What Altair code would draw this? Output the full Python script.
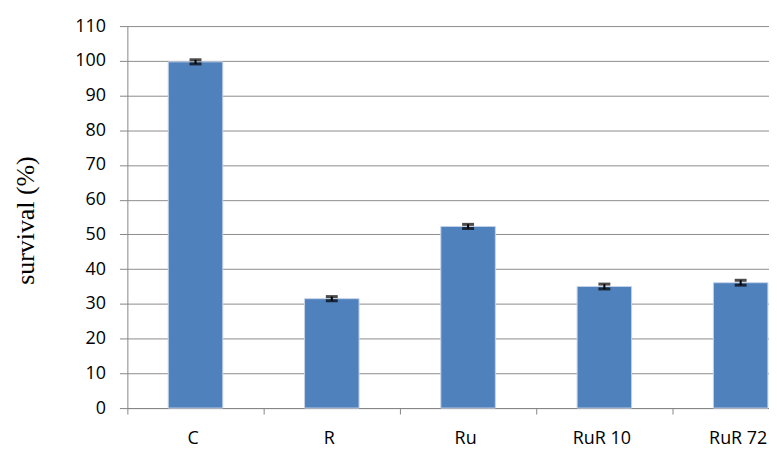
import altair as alt
import pandas as pd

categories = ["C", "R", "Ru", "RuR 10", "RuR 72"]
survival = [99.7, 31.5, 52.3, 35.0, 36.1]
errors = [0.6, 0.6, 0.6, 0.7, 0.7]
y_ticks = [0, 10, 20, 30, 40, 50, 60, 70, 80, 90, 100, 110]

df = pd.DataFrame({"cat": categories, "val": survival, "err": errors})
df["lo"] = df["val"] - df["err"]
df["hi"] = df["val"] + df["err"]

STEP = 137
xscale = alt.Scale(domain=categories, range=[0, 5 * STEP], paddingInner=0.6, paddingOuter=0.3)
yscale = alt.Scale(domain=[0, 110], nice=False)

xaxis = alt.Axis(labelAngle=0, tickOffset=-STEP / 2, labelOffset=STEP / 2 - 3, tickSize=6,
                 labelPadding=16, labelFontSize=18,
                 labelFont="Open Sans", labelColor="#000000",
                 domainColor="#868686", tickColor="#868686", grid=False,
                 title=None)
yaxis = alt.Axis(values=y_ticks, tickSize=8,
                 labelPadding=14, labelFontSize=18, labelFont="Open Sans",
                 labelColor="#000000", domainColor="#868686",
                 tickColor="#868686", gridColor="#8c8c8c", labelOverlap=False,
                 title="survival (%)",
                 titleFont="Liberation Serif", titleFontSize=26,
                 titleFontWeight="normal", titleColor="#000000",
                 titleAngle=-90, titleBaseline="middle",
                 titleX=-102, titleY=195)

X = alt.X("cat:N", scale=xscale, sort=categories, axis=xaxis)

bars = alt.Chart(df).mark_bar(color="#4F81BD", stroke="#c5d3e8", strokeWidth=1).encode(
    x=X,
    y=alt.Y("val:Q", scale=yscale, axis=yaxis),
)

rules = alt.Chart(df).mark_rule(color="#000000", strokeWidth=2).encode(
    x=X,
    y=alt.Y("lo:Q", scale=yscale, axis=yaxis),
    y2="hi:Q",
)

caps_lo = alt.Chart(df).mark_tick(color="#000000", thickness=3, size=12).encode(
    x=X,
    y=alt.Y("lo:Q", scale=yscale, axis=yaxis),
)
caps_hi = alt.Chart(df).mark_tick(color="#000000", thickness=3, size=12).encode(
    x=X,
    y=alt.Y("hi:Q", scale=yscale, axis=yaxis),
)

chart = alt.layer(bars, rules, caps_lo, caps_hi).properties(
    width=645, height=384,
    autosize=alt.AutoSizeParams(type="none"),
    padding={"left": 120, "top": 17, "right": 0, "bottom": 44},
    background="white",
).configure_view(stroke=None)

chart.save("out.html", embed_options={"renderer": "svg", "actions": False})
